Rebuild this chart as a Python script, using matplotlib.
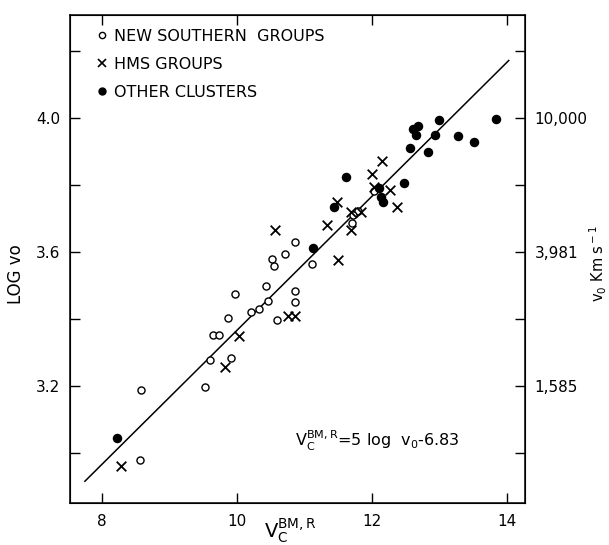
import matplotlib
matplotlib.use("Agg")
import matplotlib.pyplot as plt
from matplotlib.lines import Line2D

# values
new_southern_v = [10.86, 10.72, 10.52, 10.55, 11.12, 10.44, 10.87, 10.86, 9.97, 10.47,
                  10.33, 10.21, 9.87, 10.60, 9.65, 9.73, 9.60, 9.92, 9.53, 8.58,
                  8.57, 12.04, 11.79, 11.72, 11.71]
new_southern_log = [3.631, 3.594, 3.579, 3.560, 3.564, 3.499, 3.483, 3.451, 3.474, 3.453,
                    3.431, 3.422, 3.403, 3.398, 3.353, 3.353, 3.277, 3.283, 3.196, 3.187,
                    2.978, 3.781, 3.723, 3.710, 3.688]

hms_v = [12.15, 12.01, 12.04, 12.27, 12.37, 11.49, 11.70, 11.84, 11.69, 11.33,
         10.57, 11.50, 10.76, 10.86, 10.04, 9.83, 8.29]
hms_log = [3.873, 3.834, 3.795, 3.784, 3.736, 3.749, 3.721, 3.721, 3.666, 3.680,
           3.665, 3.575, 3.410, 3.410, 3.351, 3.258, 2.963]

other_v = [13.84, 13.00, 12.69, 12.61, 12.66, 12.94, 13.28, 13.52, 12.56, 12.83,
           11.62, 12.48, 12.11, 12.13, 12.17, 11.44, 11.13, 8.23]
other_log = [3.998, 3.995, 3.976, 3.966, 3.951, 3.949, 3.946, 3.928, 3.912, 3.899,
             3.823, 3.806, 3.791, 3.764, 3.749, 3.734, 3.611, 3.045]

# fitted relation V = 5 log v0 - 6.83, drawn between these magnitudes
fit_v = [7.75, 14.03]
fit_slope = 5.0
fit_zero = -6.83

x_ticks = [8, 10, 12, 14]
y_ticks = [3.0, 3.2, 3.4, 3.6, 3.8, 4.0, 4.2]
y_tick_labels = ["", "3.2", "", "3.6", "", "4.0", ""]
v0_tick_labels = ["", "1,585", "", "3,981", "", "10,000", ""]

plt.rcParams["font.family"] = ["DejaVu Sans"]
plt.rcParams["mathtext.fontset"] = "dejavusans"

fig = plt.figure(figsize=(6.09, 5.45), dpi=100)
ax = fig.add_axes([0.115, 0.077, 0.747, 0.895])

ax.scatter(new_southern_v, new_southern_log, s=26, facecolors="white",
           edgecolors="black", linewidths=1.0, zorder=3)
ax.scatter(hms_v, hms_log, s=48, marker="x", color="black", linewidths=1.3, zorder=3)
ax.scatter(other_v, other_log, s=34, color="black", zorder=3)

fit_log = [(v - fit_zero) / fit_slope for v in fit_v]
ax.plot(fit_v, fit_log, color="black", linewidth=1.1, zorder=2)

ax.set_xlim(7.53, 14.27)
ax.set_ylim(2.851, 4.307)
ax.set_xticks(x_ticks)
ax.set_xticklabels([str(t) for t in x_ticks], fontsize=11)
ax.set_yticks(y_ticks)
ax.set_yticklabels(y_tick_labels, fontsize=11)
ax.tick_params(direction="in", length=7, width=1.0, top=True, pad=7)
ax.tick_params(axis="x", pad=8)
for sp in ax.spines.values():
    sp.set_linewidth(1.1)

ax2 = ax.twinx()
ax2.set_ylim(ax.get_ylim())
ax2.set_yticks(y_ticks)
ax2.set_yticklabels(v0_tick_labels, fontsize=11)
ax2.tick_params(direction="in", length=7, width=1.0, pad=7)

ax.set_ylabel("LOG vo", fontsize=12)
ax.yaxis.set_label_coords(-0.10, 0.47)
ax2.set_ylabel(r"v$_{\rm 0}$ Km s$^{\rm -1}$", fontsize=10.5, rotation=90)
ax2.yaxis.set_label_coords(1.138, 0.49)

# the reference crops this label at the bottom edge; keep it just inside
ax.set_xlabel(r"V$_{\rm C}^{\rm BM,R}$", fontsize=14, va="top")
ax.xaxis.set_label_coords(0.485, -0.03)

ax.text(0.495, 0.115, r"V$_{\rm C}^{\rm BM,R}$=5 log  v$_{\rm 0}$-6.83",
        transform=ax.transAxes, fontsize=11.5, va="baseline", ha="left")

handles = [
    Line2D([], [], linestyle="none", marker="o", markersize=4.5,
           markerfacecolor="white", markeredgecolor="black", markeredgewidth=1.0),
    Line2D([], [], linestyle="none", marker="x", markersize=6,
           color="black", markeredgewidth=1.2),
    Line2D([], [], linestyle="none", marker="o", markersize=5, color="black"),
]
labels = ["NEW SOUTHERN  GROUPS", "HMS GROUPS", "OTHER CLUSTERS"]
ax.legend(handles, labels, loc="upper left", bbox_to_anchor=(0.045, 0.985),
          frameon=False, fontsize=11.5, handlelength=0.6, handletextpad=0.5,
          labelspacing=0.8, borderaxespad=0.0)

fig.savefig("out.png", dpi=100)
